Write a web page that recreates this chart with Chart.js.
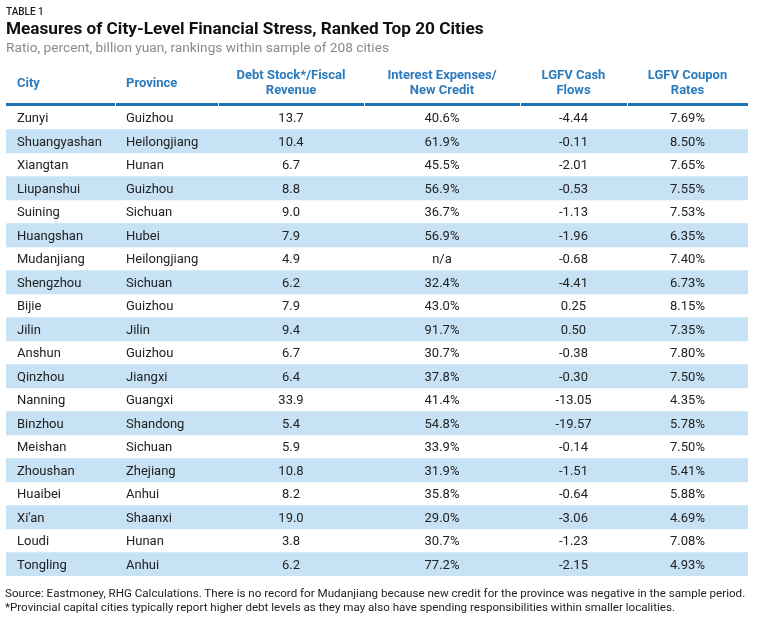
<!DOCTYPE html>
<html>
<head>
<meta charset="utf-8">
<script src="https://cdn.jsdelivr.net/npm/chart.js@4.4.1/dist/chart.umd.min.js"></script>
<style>
  body { margin: 0; background: #fff; }
  #wrap { position: relative; width: 760px; height: 624px; font-family: Roboto, sans-serif; }
  #chart { position: absolute; left: 0; top: 0; }
  .txt { position: absolute; left: 6px; white-space: nowrap; }
  #kicker { top: 6px; font-size: 10px; font-weight: 500; color: #222; }
  #title { top: 18px; font-size: 17.2px; font-weight: bold; color: #111; }
  #subtitle { top: 39px; font-size: 13.7px; color: #8a8a8a; }
  #notes { left: 5px; top: 586px; font-size: 11.6px; line-height: 14px; color: #222; }
</style>
</head>
<body>
<div id="wrap">
  <canvas id="chart" width="760" height="624"></canvas>
  <div class="txt" id="kicker">TABLE 1</div>
  <div class="txt" id="title">Measures of City-Level Financial Stress, Ranked Top 20 Cities</div>
  <div class="txt" id="subtitle">Ratio, percent, billion yuan, rankings within sample of 208 cities</div>
  <div class="txt" id="notes">Source: Eastmoney, RHG Calculations. There is no record for Mudanjiang because new credit for the province was negative in the sample period.<br>*Provincial capital cities typically report higher debt levels as they may also have spending responsibilities within smaller localities.</div>
</div>
<script>
// Tabel: mål for finansielt stress på byniveau
const cities = ['Zunyi', 'Shuangyashan', 'Xiangtan', 'Liupanshui', 'Suining', 'Huangshan', 'Mudanjiang',
    'Shengzhou', 'Bijie', 'Jilin', 'Anshun', 'Qinzhou', 'Nanning', 'Binzhou', 'Meishan', 'Zhoushan',
    'Huaibei', "Xi'an", 'Loudi', 'Tongling'];
const provinces = ['Guizhou', 'Heilongjiang', 'Hunan', 'Guizhou', 'Sichuan', 'Hubei', 'Heilongjiang',
    'Sichuan', 'Guizhou', 'Jilin', 'Guizhou', 'Jiangxi', 'Guangxi', 'Shandong', 'Sichuan', 'Zhejiang',
    'Anhui', 'Shaanxi', 'Hunan', 'Anhui'];
const debtToRevenue = [13.7, 10.4, 6.7, 8.8, 9.0, 7.9, 4.9, 6.2, 7.9, 9.4, 6.7, 6.4, 33.9, 5.4, 5.9, 10.8, 8.2, 19.0, 3.8, 6.2];
const interestToCredit = [40.6, 61.9, 45.5, 56.9, 36.7, 56.9, null, 32.4, 43.0, 91.7, 30.7, 37.8, 41.4, 54.8, 33.9, 31.9, 35.8, 29.0, 30.7, 77.2];
const cashFlows = [-4.44, -0.11, -2.01, -0.53, -1.13, -1.96, -0.68, -4.41, 0.25, 0.50, -0.38, -0.30, -13.05, -19.57, -0.14, -1.51, -0.64, -3.06, -1.23, -2.15];
const couponRates = [7.69, 8.50, 7.65, 7.55, 7.53, 6.35, 7.40, 6.73, 8.15, 7.35, 7.80, 7.50, 4.35, 5.78, 7.50, 5.41, 5.88, 4.69, 7.08, 4.93];

const headers = [
    ['City'],
    ['Province'],
    ['Debt Stock*/Fiscal', 'Revenue'],
    ['Interest Expenses/', 'New Credit'],
    ['LGFV Cash', 'Flows'],
    ['LGFV Coupon', 'Rates']
];

// Kolonnegrænser i x-skalaens enheder
const columnEdges = [0, 109, 212, 358, 514, 621, 742];
const tableWidth = 742;

const columns = [
    cities,
    provinces,
    debtToRevenue.map(v => v.toFixed(1)),
    interestToCredit.map(v => v === null ? 'n/a' : v.toFixed(1) + '%'),
    cashFlows.map(v => v.toFixed(2)),
    couponRates.map(v => v.toFixed(2) + '%')
];

// Hver anden række får en blå baggrund
const stripes = cities.map((c, i) => i % 2 === 1 ? [0, tableWidth] : null);

const tablePlugin = {
    id: 'tableText',
    afterDatasetsDraw(chart) {
        const ctx = chart.ctx;
        const x = chart.scales.x;
        const y = chart.scales.y;
        const top = chart.chartArea.top;
        ctx.save();

        // Overskrifter
        ctx.font = 'bold 13px Roboto, sans-serif';
        ctx.textBaseline = 'middle';
        headers.forEach((lines, c) => {
            const left = x.getPixelForValue(columnEdges[c]);
            const right = x.getPixelForValue(columnEdges[c + 1]);
            const alignLeft = c < 2;
            ctx.textAlign = alignLeft ? 'left' : 'center';
            const tx = alignLeft ? left + 11 : (left + right) / 2;
            ctx.fillStyle = '#2b7bbd';
            if (lines.length === 1) {
                ctx.fillText(lines[0], tx, top - 22);
            } else {
                ctx.fillText(lines[0], tx, top - 30);
                ctx.fillText(lines[1], tx, top - 15);
            }
            // Blå linje under overskriften
            ctx.fillStyle = '#1c74b4';
            ctx.fillRect(left + (c > 0 ? 1 : 0), top - 3, right - left - (c > 0 ? 1 : 0), 3);
        });

        // Celler
        ctx.font = '13px Roboto, sans-serif';
        ctx.fillStyle = '#222';
        columns.forEach((values, c) => {
            const left = x.getPixelForValue(columnEdges[c]);
            const right = x.getPixelForValue(columnEdges[c + 1]);
            const alignLeft = c < 2;
            ctx.textAlign = alignLeft ? 'left' : 'center';
            const tx = alignLeft ? left + 11 : (left + right) / 2;
            values.forEach((v, r) => {
                ctx.fillText(v, tx, y.getPixelForValue(r) + 1);
            });
        });
        ctx.restore();
    }
};

new Chart(document.getElementById('chart'), {
    type: 'bar',
    data: {
        labels: cities,
        datasets: [{
            data: stripes,
            backgroundColor: '#c6e2f4',
            borderWidth: 0,
            barPercentage: 1,
            categoryPercentage: 1
        }]
    },
    options: {
        indexAxis: 'y',
        responsive: false,
        animation: false,
        layout: {
            padding: { left: 6, right: 12, top: 106, bottom: 48 }
        },
        scales: {
            x: { type: 'linear', min: 0, max: tableWidth, display: false },
            y: { display: false, offset: true }
        },
        plugins: {
            legend: { display: false },
            tooltip: { enabled: false }
        }
    },
    plugins: [tablePlugin]
});
</script>
</body>
</html>
